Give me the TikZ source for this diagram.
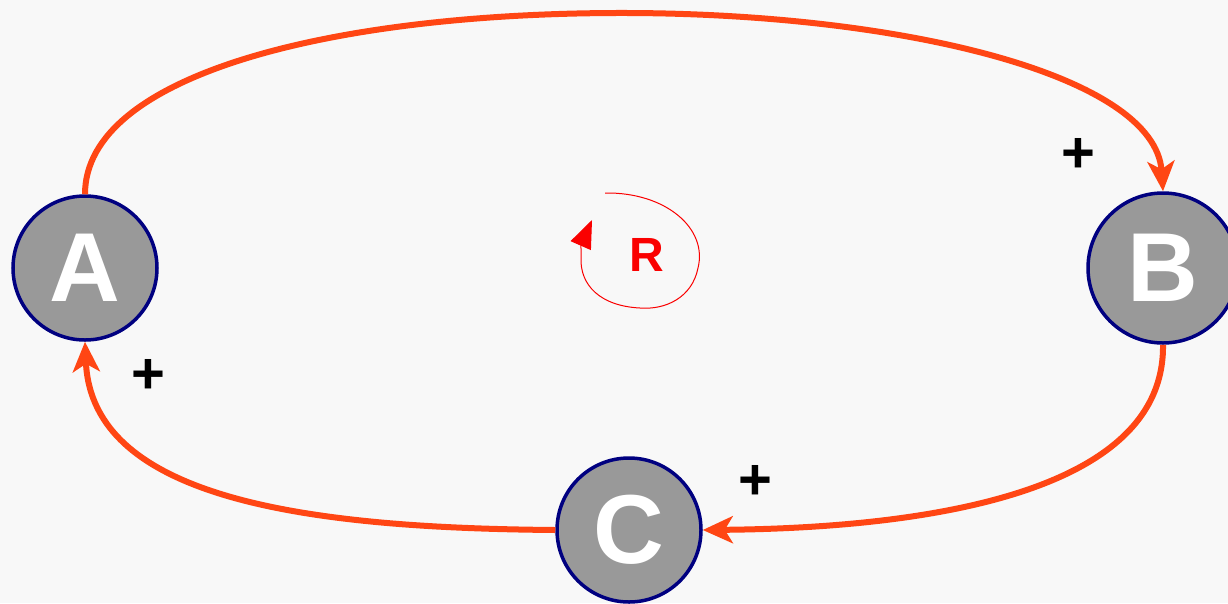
\documentclass[tikz,border=0pt]{standalone}
\usepackage{fontspec}
\setmainfont{Liberation Sans}
\usetikzlibrary{arrows.meta}
\definecolor{bg}{RGB}{248,248,248}
\definecolor{link}{RGB}{255,70,20}
\definecolor{nodegray}{RGB}{153,153,153}
\definecolor{rim}{RGB}{0,0,128}
\definecolor{rred}{RGB}{250,0,0}
\tikzset{
  var/.style={circle, draw=rim, line width=3.5pt, fill=nodegray, minimum size=144pt, inner sep=0pt,
    text=white, font=\fontsize{98}{98}\selectfont\bfseries},
  link/.style={draw=link, line width=6pt, -{Stealth[length=30pt,width=27pt,inset=8pt]}},
  sign/.style={font=\fontsize{58}{58}\selectfont\bfseries, inner sep=0pt}
}
\begin{document}
\begin{tikzpicture}[x=1pt,y=-1pt]
\fill[bg] (0,0) rectangle (1228,603);
\useasboundingbox (0,0) rectangle (1228,603);
\node[var] (A) at (85,268) {A};
\node[var, minimum size=150pt] (B) at (1163,268) {B};
\node[var] (C) at (629,530) {C};
\coordinate (T) at (615,13);
\draw[link] (A.north) .. controls (85,75) and (330,14) .. (T)
  .. controls (900,12) and (1155,75) .. (B.north);
\draw[link] (B.south) .. controls (1165,495) and (920,528) .. (C.east);
\draw[link] (C.west) .. controls (310,528) and (92,500) .. (A.south);
\node[sign] (p1) at (1078,155) {+};
\node[sign] (p2) at (148,376) {+};
\node[sign] (p3) at (755,482) {+};
\node[text=rred, font=\fontsize{48}{48}\selectfont\bfseries] (R) at (647,255) {R};
\draw[rred, line width=1pt, -{Triangle[length=28pt,width=22pt]}]
  (605,193) .. controls (665,192) and (708,228) .. (698,268)
  .. controls (692,298) and (665,310) .. (640,308)
  .. controls (600,306) and (580,285) .. (581,258)
  .. controls (581,245) .. (592,220);
\end{tikzpicture}
\end{document}
